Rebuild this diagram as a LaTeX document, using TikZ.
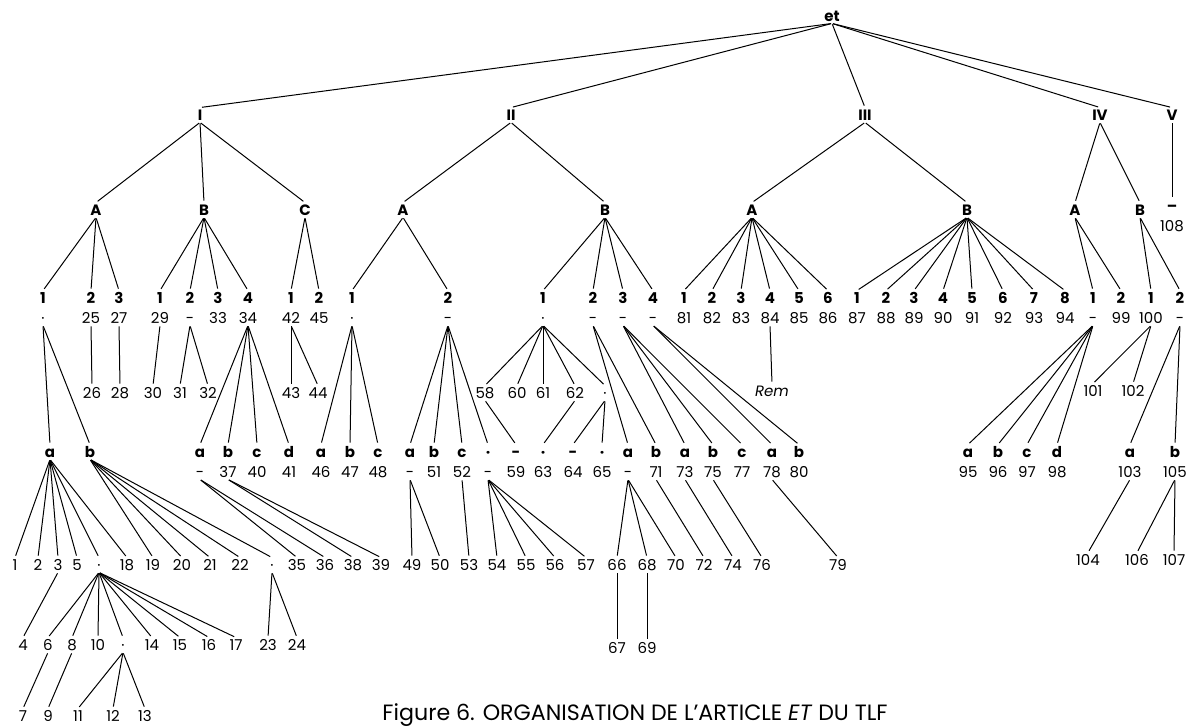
\documentclass[tikz,border=0pt]{standalone}
\usepackage{fontspec}
\newfontfamily\pop{Poppins}
\newcommand\ent[5]{%
  \node[lab] (l#1) at (#2,#3) {#4};
  \node[num] (#1) at (#2,#3+20) {#5};}
\begin{document}
\begin{tikzpicture}[x=1pt,y=-1pt,
  num/.style={font=\pop\fontsize{15}{15}\selectfont, inner sep=2pt, text height=10.5pt, text depth=0pt},
  lab/.style={font=\pop\bfseries\fontsize{15}{15}\selectfont, inner sep=2pt, text height=10.5pt, text depth=0pt},
  capt/.style={font=\pop\fontsize{15}{15}\selectfont, inner sep=0pt, anchor=base},
  e/.style={line width=1pt, shorten <=1pt, shorten >=2pt}]
\fill[white] (0,0) rectangle (1189,727);
\useasboundingbox (0,0) rectangle (1189,727);
% root and level 1
\node[lab] (et) at (832,16) {et};
\node[lab] (I) at (200,115) {I};
\node[lab] (II) at (511,115) {II};
\node[lab] (III) at (865,115) {III};
\node[lab] (IV) at (1100,115) {IV};
\node[lab] (V) at (1172,115) {V};
% level 2
\node[lab] (IA) at (96,210) {A};
\node[lab] (IB) at (204,210) {B};
\node[lab] (IC) at (305,210) {C};
\node[lab] (IIA) at (403,210) {A};
\node[lab] (IIB) at (605,210) {B};
\node[lab] (IIIA) at (752,210) {A};
\node[lab] (IIIB) at (967,210) {B};
\node[lab] (IVA) at (1075,210) {A};
\node[lab] (IVB) at (1140,210) {B};
\node[lab] (Vd) at (1172,206) {–};
\node[num] (n108) at (1172,226) {108};
% level 3
\ent{IA1}{43}{298}{1}{·}
\ent{IA2}{91}{298}{2}{25}
\ent{IA3}{119}{298}{3}{27}
\ent{IB1}{160}{298}{1}{29}
\ent{IB2}{190}{298}{2}{-}
\ent{IB3}{218}{298}{3}{33}
\ent{IB4}{248}{298}{4}{34}
\ent{IC1}{291}{298}{1}{42}
\ent{IC2}{319}{298}{2}{45}
\ent{IIA1}{352}{298}{1}{·}
\ent{IIA2}{448}{298}{2}{-}
\ent{IIB1}{543}{298}{1}{·}
\ent{IIB2}{593}{298}{2}{-}
\ent{IIB3}{623}{298}{3}{-}
\ent{IIB4}{653}{298}{4}{-}
\ent{IIIA1}{684}{298}{1}{81}
\ent{IIIA2}{712}{298}{2}{82}
\ent{IIIA3}{741}{298}{3}{83}
\ent{IIIA4}{770}{298}{4}{84}
\ent{IIIA5}{799}{298}{5}{85}
\ent{IIIA6}{828}{298}{6}{86}
\ent{IIIB1}{857}{298}{1}{87}
\ent{IIIB2}{886}{298}{2}{88}
\ent{IIIB3}{914}{298}{3}{89}
\ent{IIIB4}{943}{298}{4}{90}
\ent{IIIB5}{972}{298}{5}{91}
\ent{IIIB6}{1003}{298}{6}{92}
\ent{IIIB7}{1034}{298}{7}{93}
\ent{IIIB8}{1065}{298}{8}{94}
\ent{IVA1}{1093}{298}{1}{-}
\ent{IVA2}{1121}{298}{2}{99}
\ent{IVB1}{1151}{298}{1}{100}
\ent{IVB2}{1180}{298}{2}{-}
% level 4
\node[num] (n26) at (92,393) {26};
\node[num] (n28) at (120,393) {28};
\node[num] (n30) at (153,393) {30};
\node[num] (n31) at (180,393) {31};
\node[num] (n32) at (208,393) {32};
\node[num] (n43) at (291,393) {43};
\node[num] (n44) at (318,393) {44};
\node[num] (Rem) at (772,391) {\itshape Rem};
\node[num] (n58) at (485,393) {58};
\node[num] (n60) at (517,393) {60};
\node[num] (n61) at (543,393) {61};
\node[num] (n62) at (575,393) {62};
\node[num] (dE) at (605,393) {·};
\node[num] (n101) at (1093,391) {101};
\node[num] (n102) at (1133,391) {102};
% level 5
\node[lab] (IA1a) at (50,452) {a};
\node[lab] (IA1b) at (90,452) {b};
\ent{IB4a}{200}{452}{a}{-}
\ent{IB4b}{228}{452}{b}{37}
\ent{IB4c}{257}{452}{c}{40}
\ent{IB4d}{289}{452}{d}{41}
\ent{IIA1a}{321}{452}{a}{46}
\ent{IIA1b}{350}{452}{b}{47}
\ent{IIA1c}{378}{452}{c}{48}
\ent{IIA2a}{410}{452}{a}{-}
\ent{IIA2b}{434}{452}{b}{51}
\ent{IIA2c}{462}{452}{c}{52}
\ent{IIA2d}{488}{452}{·}{-}
\ent{D59}{516}{452}{-}{59}
\ent{D63}{543}{452}{·}{63}
\ent{D64}{573}{452}{-}{64}
\ent{D65}{602}{452}{·}{65}
\ent{IIB2a}{628}{452}{a}{-}
\ent{IIB2b}{656}{452}{b}{71}
\ent{IIB3a}{685}{452}{a}{73}
\ent{IIB3b}{713}{452}{b}{75}
\ent{IIB3c}{742}{452}{c}{77}
\ent{IIB4a}{772}{452}{a}{78}
\ent{IIB4b}{799}{452}{b}{80}
\ent{IVA1a}{968}{452}{a}{95}
\ent{IVA1b}{998}{452}{b}{96}
\ent{IVA1c}{1027}{452}{c}{97}
\ent{IVA1d}{1057}{452}{d}{98}
\ent{IVB2a}{1130}{452}{a}{103}
\ent{IVB2b}{1175}{452}{b}{105}
% level 6
\node[num] (c1) at (15,565) {1};
\node[num] (c2) at (38,565) {2};
\node[num] (c3) at (58,565) {3};
\node[num] (c5) at (77,565) {5};
\node[num] (dA) at (99,565) {·};
\node[num] (n18) at (127,565) {18};
\node[num] (n19) at (153,565) {19};
\node[num] (n20) at (182,565) {20};
\node[num] (n21) at (210,565) {21};
\node[num] (n22) at (240,565) {22};
\node[num] (dC) at (272,565) {·};
\node[num] (n35) at (297,565) {35};
\node[num] (n36) at (325,565) {36};
\node[num] (n38) at (353,565) {38};
\node[num] (n39) at (381,565) {39};
\node[num] (n49) at (412,565) {49};
\node[num] (n50) at (440,565) {50};
\node[num] (n53) at (469,565) {53};
\node[num] (n54) at (497,565) {54};
\node[num] (n55) at (526,565) {55};
\node[num] (n56) at (555,565) {56};
\node[num] (n57) at (586,565) {57};
\node[num] (n66) at (617,565) {66};
\node[num] (n68) at (647,565) {68};
\node[num] (n70) at (676,565) {70};
\node[num] (n72) at (704,565) {72};
\node[num] (n74) at (733,565) {74};
\node[num] (n76) at (762,565) {76};
\node[num] (n79) at (838,565) {79};
\node[num] (n104) at (1088,560) {104};
\node[num] (n106) at (1137,560) {106};
\node[num] (n107) at (1174,560) {107};
% level 7
\node[num] (n4) at (23,645) {4};
\node[num] (n6) at (48,645) {6};
\node[num] (n8) at (72,645) {8};
\node[num] (n10) at (98,645) {10};
\node[num] (dB) at (123,645) {·};
\node[num] (n14) at (152,645) {14};
\node[num] (n15) at (180,645) {15};
\node[num] (n16) at (209,645) {16};
\node[num] (n17) at (236,645) {17};
\node[num] (n23) at (268,645) {23};
\node[num] (n24) at (297,645) {24};
\node[num] (n67) at (617,648) {67};
\node[num] (n69) at (647,648) {69};
% level 8
\node[num] (n7) at (23,716) {7};
\node[num] (n9) at (48,716) {9};
\node[num] (n11) at (78,716) {11};
\node[num] (n12) at (113,716) {12};
\node[num] (n13) at (145,716) {13};
% caption
\node[capt] (cap) at (635,720) {\resizebox{505pt}{!}{Figure 6. ORGANISATION DE L’ARTICLE \textit{ET} DU TLF}};
% edges
\foreach \c in {I,II,III,IV,V} \draw[e] (et.south) -- (\c.north);
\foreach \c in {IA,IB,IC} \draw[e] (I.south) -- (\c.north);
\foreach \c in {IIA,IIB} \draw[e] (II.south) -- (\c.north);
\foreach \c in {IIIA,IIIB} \draw[e] (III.south) -- (\c.north);
\foreach \c in {IVA,IVB} \draw[e] (IV.south) -- (\c.north);
\draw[e] (V.south) -- (Vd.north);
\foreach \c in {IA1,IA2,IA3} \draw[e] (IA.south) -- (l\c.north);
\foreach \c in {IB1,IB2,IB3,IB4} \draw[e] (IB.south) -- (l\c.north);
\foreach \c in {IC1,IC2} \draw[e] (IC.south) -- (l\c.north);
\foreach \c in {IIA1,IIA2} \draw[e] (IIA.south) -- (l\c.north);
\foreach \c in {IIB1,IIB2,IIB3,IIB4} \draw[e] (IIB.south) -- (l\c.north);
\foreach \c in {IIIA1,IIIA2,IIIA3,IIIA4,IIIA5,IIIA6} \draw[e] (IIIA.south) -- (l\c.north);
\foreach \c in {IIIB1,IIIB2,IIIB3,IIIB4,IIIB5,IIIB6,IIIB7,IIIB8} \draw[e] (IIIB.south) -- (l\c.north);
\foreach \c in {IVA1,IVA2} \draw[e] (IVA.south) -- (l\c.north);
\foreach \c in {IVB1,IVB2} \draw[e] (IVB.south) -- (l\c.north);
% level 3 -> 4/5
\foreach \c in {IA1a,IA1b} \draw[e] (IA1.south) -- (\c.north);
\draw[e] (IA2.south) -- (n26.north);
\draw[e] (IA3.south) -- (n28.north);
\draw[e] (IB1.south) -- (n30.north);
\foreach \c in {n31,n32} \draw[e] (IB2.south) -- (\c.north);
\foreach \c in {IB4a,IB4b,IB4c,IB4d} \draw[e] (IB4.south) -- (l\c.north);
\foreach \c in {n43,n44} \draw[e] (IC1.south) -- (\c.north);
\foreach \c in {IIA1a,IIA1b,IIA1c} \draw[e] (IIA1.south) -- (l\c.north);
\foreach \c in {IIA2a,IIA2b,IIA2c,IIA2d} \draw[e] (IIA2.south) -- (l\c.north);
\foreach \c in {n58,n60,n61,n62,dE} \draw[e] (IIB1.south) -- (\c.north);
\foreach \c in {IIB2a,IIB2b} \draw[e] (IIB2.south) -- (l\c.north);
\foreach \c in {IIB3a,IIB3b,IIB3c} \draw[e] (IIB3.south) -- (l\c.north);
\foreach \c in {IIB4a,IIB4b} \draw[e] (IIB4.south) -- (l\c.north);
\draw[e] (IIIA4.south) -- (Rem.north);
\foreach \c in {IVA1a,IVA1b,IVA1c,IVA1d} \draw[e] (IVA1.south) -- (l\c.north);
\foreach \c in {n101,n102} \draw[e] (IVB1.south) -- (\c.north);
\foreach \c in {IVB2a,IVB2b} \draw[e] (IVB2.south) -- (l\c.north);
% level 4 -> 5
\draw[e] (n58.south) -- (lD59.north);
\draw[e] (n62.south) -- (lD63.north);
\foreach \c in {D64,D65} \draw[e] (dE.south) -- (l\c.north);
% level 5 -> 6
\foreach \c in {c1,c2,c3,c5,dA,n18} \draw[e] (IA1a.south) -- (\c.north);
\foreach \c in {n19,n20,n21,n22,dC} \draw[e] (IA1b.south) -- (\c.north);
\foreach \c in {n35,n36} \draw[e] (IB4a.south) -- (\c.north);
\foreach \c in {n38,n39} \draw[e] (IB4b.south) -- (\c.north);
\foreach \c in {n49,n50} \draw[e] (IIA2a.south) -- (\c.north);
\draw[e] (IIA2c.south) -- (n53.north);
\foreach \c in {n54,n55,n56,n57} \draw[e] (IIA2d.south) -- (\c.north);
\foreach \c in {n66,n68,n70} \draw[e] (IIB2a.south) -- (\c.north);
\draw[e] (IIB2b.south) -- (n72.north);
\draw[e] (IIB3a.south) -- (n74.north);
\draw[e] (IIB3b.south) -- (n76.north);
\draw[e] (IIB4a.south) -- (n79.north);
\draw[e] (IVB2a.south) -- (n104.north);
\foreach \c in {n106,n107} \draw[e] (IVB2b.south) -- (\c.north);
% level 6 -> 7
\draw[e] (c3.south) -- (n4.north);
\foreach \c in {n6,n8,n10,dB,n14,n15,n16,n17} \draw[e] (dA.south) -- (\c.north);
\foreach \c in {n23,n24} \draw[e] (dC.south) -- (\c.north);
\draw[e] (n66.south) -- (n67.north);
\draw[e] (n68.south) -- (n69.north);
% level 7 -> 8
\draw[e] (n6.south) -- (n7.north);
\draw[e] (n8.south) -- (n9.north);
\foreach \c in {n11,n12,n13} \draw[e] (dB.south) -- (\c.north);
\end{tikzpicture}
\end{document}
